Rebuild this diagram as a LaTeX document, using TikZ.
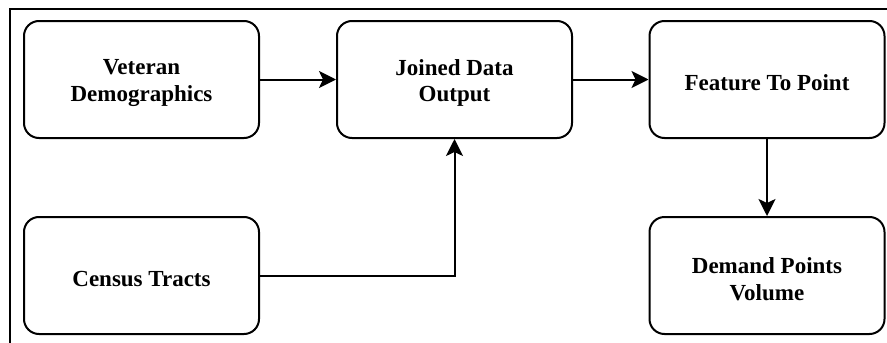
\documentclass[tikz,border=0pt]{standalone}
\usepackage{fontspec}
\setmainfont{Liberation Serif}
\usetikzlibrary{arrows.meta}
\begin{document}
\begin{tikzpicture}[x=1pt,y=-1pt,
  box/.style={draw=black, line width=2pt, rounded corners=15pt, fill=white,
    minimum width=235pt, minimum height=117pt, inner sep=0pt},
  lbl/.style={align=center, font=\fontsize{23}{26.5}\selectfont\bfseries,
    inner sep=0pt, yshift=-3.5pt},
  conn/.style={draw=black, line width=2pt, -{Stealth[length=17pt,width=17pt,inset=4pt]}}]
\useasboundingbox (0,0) rectangle (887,343);
\draw[line width=1.8pt] (10,343) -- (10,9) -- (887,9);
\node[box, label={[lbl]center:{Veteran\\Demographics}}] (vet) at (141.5,79.5) {};
\node[box, label={[lbl]center:{Joined Data\\Output}}] (join) at (454.5,79.5) {};
\node[box, label={[lbl]center:{Feature To Point}}] (feat) at (767,79.5) {};
\node[box, label={[lbl]center:{Census Tracts}}] (cen) at (141.5,275.5) {};
\node[box, label={[lbl]center:{Demand Points\\Volume}}] (dem) at (767,275.5) {};
\draw[conn] (vet.east) -- (join.west);
\draw[conn] (join.east) -- (feat.west);
\draw[conn] (feat.south) -- (dem.north);
\draw[conn] (cen.east) -| (join.south);
\end{tikzpicture}
\end{document}
